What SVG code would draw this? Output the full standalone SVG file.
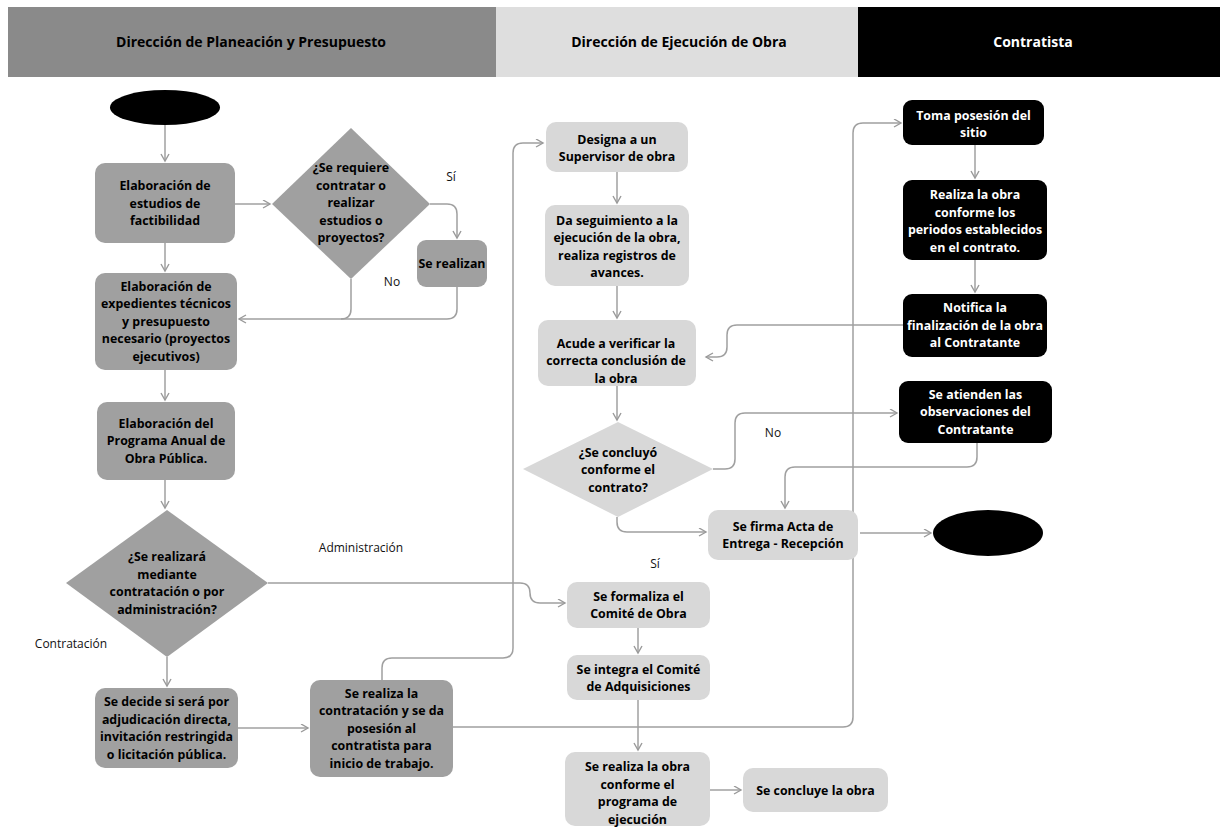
<svg xmlns="http://www.w3.org/2000/svg" width="1220" height="827" viewBox="0 0 1220 827">
<defs>
<marker id="arr" markerUnits="userSpaceOnUse" markerWidth="10" markerHeight="10" refX="8" refY="4.5" orient="auto">
<path d="M1,0.5 L8,4.5 L1,8.5" fill="none" stroke="#9a9a9a" stroke-width="1.4"/>
</marker>
</defs>
<style>
text{font-family:"Open Sans","Liberation Sans",sans-serif;font-size:12.4px;text-anchor:middle}
.b{font-weight:bold;fill:#000}
.w{font-weight:bold;fill:#fff}
.h{font-size:14px}
.lbl{fill:#111;font-size:12px}
.nl{fill:#a0a0a0}
.nm{fill:#d8d8d8}
.nr{fill:#000}
.con path{fill:none;stroke:#a0a0a0;stroke-width:1.5;marker-end:url(#arr)}
.con path.nm2{marker-end:none}
</style>
<rect width="1220" height="827" fill="#fff"/>
<g id="header">
<rect x="8" y="7" width="488" height="70" fill="#8a8a8a"/>
<rect x="496" y="7" width="362" height="70" fill="#dedede"/>
<rect x="858" y="7" width="362" height="70" fill="#000"/>
<text class="b h" x="251" y="47">Dirección de Planeación y Presupuesto</text>
<text class="b h" x="679" y="47">Dirección de Ejecución de Obra</text>
<text class="w h" x="1033" y="47">Contratista</text>
</g>
<g class="con" id="connectors">
<path d="M165,125 V161"/>
<path d="M165,243 V271"/>
<path d="M235,204 H270"/>
<path d="M430,204 H447 Q457,204 457,214 V238"/>
<path class="nm2" d="M351,279 V309 Q351,319 341,319"/>
<path d="M457,287 V309 Q457,319 447,319 H239"/>
<path d="M165,370 V400"/>
<path d="M165,480 V508"/>
<path d="M167,657 V686"/>
<path d="M268,583 H520 Q530,583 530,593 Q530,603 540,603 H565"/>
<path d="M238,728 H308"/>
<path d="M382,680 V668 Q382,658 392,658 H503 Q513,658 513,648 V153 Q513,143 523,143 H543"/>
<path d="M453,727 H843 Q853,727 853,717 V133 Q853,123 863,123 H901"/>
<path d="M617,172 V203"/>
<path d="M617,286 V318"/>
<path d="M617,386 V420"/>
<path d="M903,325 H737 Q727,325 727,335 V347 Q727,357 717,357 H706"/>
<path d="M713,469 H725 Q735,469 735,459 V423 Q735,413 745,413 H897"/>
<path d="M977,443 V457 Q977,467 967,467 H795 Q785,467 785,477 V508"/>
<path d="M617,517 V522 Q617,532 627,532 H706"/>
<path d="M860,533 H931"/>
<path d="M975,145 V178"/>
<path d="M975,260 V292"/>
<path d="M638,628 V653"/>
<path d="M638,700 V750"/>
<path d="M710,790 H741"/>
</g>
<g id="start"><ellipse cx="165" cy="107.5" rx="55" ry="17.5" fill="#000"/></g>
<g id="n1"><rect class="nl" x="95" y="163" width="140" height="80" rx="10"/>
<text class="b" x="165" y="190">Elaboración de</text><text class="b" x="165" y="207.5">estudios de</text><text class="b" x="165" y="225">factibilidad</text></g>
<g id="d1"><polygon class="nl" points="351,128 430,204 351,279 272,204"/>
<text class="b" x="351" y="172">¿Se requiere</text><text class="b" x="351" y="189.5">contratar o</text><text class="b" x="351" y="207">realizar</text><text class="b" x="351" y="224.5">estudios o</text><text class="b" x="351" y="242">proyectos?</text></g>
<g id="n_realizan"><rect class="nl" x="417" y="240" width="70" height="47" rx="9"/>
<text class="b" x="452" y="267.5">Se realizan</text></g>
<g id="n2"><rect class="nl" x="95" y="273" width="142" height="97" rx="10"/>
<text class="b" x="166" y="290.5">Elaboración de</text><text class="b" x="166" y="308">expedientes técnicos</text><text class="b" x="166" y="325.5">y presupuesto</text><text class="b" x="166" y="343">necesario (proyectos</text><text class="b" x="166" y="360.5">ejecutivos)</text></g>
<g id="n3"><rect class="nl" x="97" y="402" width="138" height="78" rx="10"/>
<text class="b" x="166" y="427.5">Elaboración del</text><text class="b" x="166" y="445">Programa Anual de</text><text class="b" x="166" y="462.5">Obra Pública.</text></g>
<g id="d2"><polygon class="nl" points="167,510 268,583 167,657 66,583"/>
<text class="b" x="167" y="561">¿Se realizará</text><text class="b" x="167" y="578.5">mediante</text><text class="b" x="167" y="596">contratación o por</text><text class="b" x="167" y="613.5">administración?</text></g>
<g id="n4"><rect class="nl" x="95" y="688" width="143" height="80" rx="10"/>
<text class="b" x="166.5" y="706">Se decide si será por</text><text class="b" x="166.5" y="723.5">adjudicación directa,</text><text class="b" x="166.5" y="741">invitación restringida</text><text class="b" x="166.5" y="758.5">o  licitación pública.</text></g>
<g id="n5"><rect class="nl" x="310" y="680" width="143" height="97" rx="10"/>
<text class="b" x="381.5" y="697.5">Se realiza la</text><text class="b" x="381.5" y="715">contratación y se da</text><text class="b" x="381.5" y="732.5">posesión al</text><text class="b" x="381.5" y="750">contratista para</text><text class="b" x="381.5" y="767.5">inicio de trabajo.</text></g>
<g id="m1"><rect class="nm" x="546" y="122" width="142" height="50" rx="10"/>
<text class="b" x="617" y="143.5">Designa a un</text><text class="b" x="617" y="161">Supervisor de obra</text></g>
<g id="m2"><rect class="nm" x="545" y="205" width="144" height="81" rx="10"/>
<text class="b" x="617" y="224.5">Da seguimiento a la</text><text class="b" x="617" y="242">ejecución de la obra,</text><text class="b" x="617" y="259.5">realiza registros de</text><text class="b" x="617" y="277">avances.</text></g>
<g id="m3"><rect class="nm" x="538" y="320" width="158" height="66" rx="10"/>
<text class="b" x="616" y="347.5">Acude a verificar la</text><text class="b" x="616" y="365">correcta conclusión de</text><text class="b" x="616" y="382.5">la obra</text></g>
<g id="d3"><polygon class="nm" points="618,422 713,469 618,517 523,469"/>
<text class="b" x="618" y="456.5">¿Se concluyó</text><text class="b" x="618" y="474">conforme el</text><text class="b" x="618" y="491.5">contrato?</text></g>
<g id="m4"><rect class="nm" x="708" y="510" width="150" height="50" rx="10"/>
<text class="b" x="783" y="530.5">Se firma Acta de</text><text class="b" x="783" y="548">Entrega - Recepción</text></g>
<g id="m5"><rect class="nm" x="567" y="582" width="143" height="46" rx="10"/>
<text class="b" x="638.5" y="600.5">Se formaliza el</text><text class="b" x="638.5" y="618">Comité de Obra</text></g>
<g id="m6"><rect class="nm" x="567" y="655" width="143" height="45" rx="10"/>
<text class="b" x="638.5" y="673.5">Se integra el Comité</text><text class="b" x="638.5" y="691">de Adquisiciones</text></g>
<g id="m7"><rect class="nm" x="565" y="752" width="145" height="74" rx="10"/>
<text class="b" x="637.5" y="771">Se realiza la obra</text><text class="b" x="637.5" y="788.5">conforme el</text><text class="b" x="637.5" y="806">programa de</text><text class="b" x="637.5" y="823.5">ejecución</text></g>
<g id="m8"><rect class="nm" x="743" y="768" width="145" height="44" rx="10"/>
<text class="b" x="815.5" y="794.5">Se concluye la obra</text></g>
<g id="r1"><rect class="nr" x="903" y="100" width="141" height="45" rx="9"/>
<text class="w" x="973.5" y="119.5">Toma posesión del</text><text class="w" x="973.5" y="137">sitio</text></g>
<g id="r2"><rect class="nr" x="903" y="180" width="144" height="80" rx="9"/>
<text class="w" x="975" y="199">Realiza la obra</text><text class="w" x="975" y="216.5">conforme los</text><text class="w" x="975" y="234">periodos establecidos</text><text class="w" x="975" y="251.5">en el contrato.</text></g>
<g id="r3"><rect class="nr" x="903" y="294" width="144" height="63" rx="9"/>
<text class="w" x="975" y="312">Notifica la</text><text class="w" x="975" y="329.5">finalización de la obra</text><text class="w" x="975" y="347">al Contratante</text></g>
<g id="r4"><rect class="nr" x="899" y="381" width="153" height="62" rx="9"/>
<text class="w" x="975.5" y="398.5">Se atienden las</text><text class="w" x="975.5" y="416">observaciones del</text><text class="w" x="975.5" y="433.5">Contratante</text></g>
<g id="end"><ellipse cx="988" cy="533" rx="55" ry="23" fill="#000"/></g>
<g id="labels">
<text class="lbl" x="451" y="181">Sí</text>
<text class="lbl" x="392" y="286">No</text>
<text class="lbl" x="361" y="552">Administración</text>
<text class="lbl" x="71" y="648">Contratación</text>
<text class="lbl" x="773" y="437">No</text>
<text class="lbl" x="655" y="568">Sí</text>
</g>
</svg>
